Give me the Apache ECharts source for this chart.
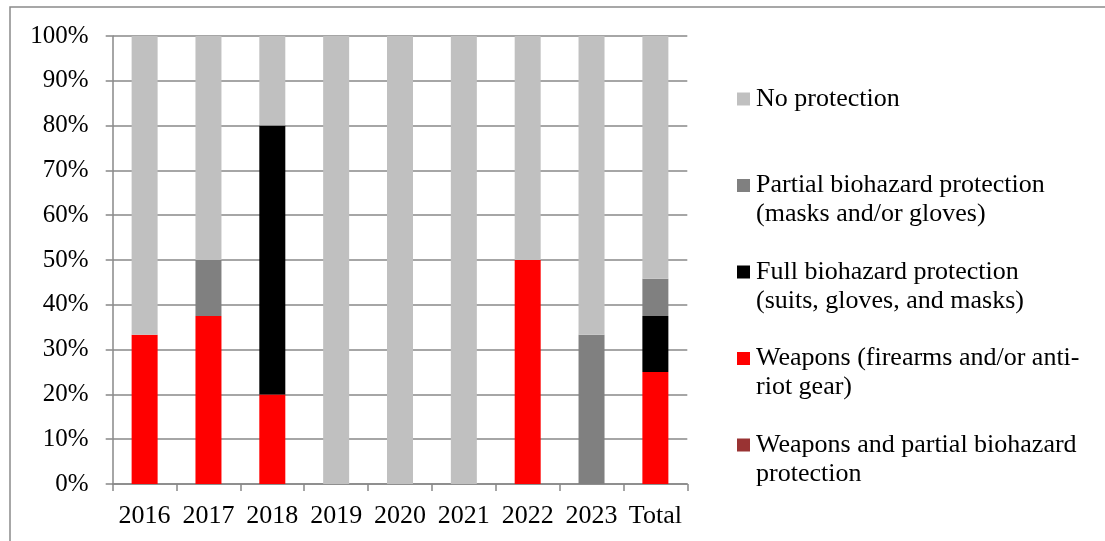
<!DOCTYPE html>
<html>
<head>
<meta charset="utf-8">
<script src="https://cdn.jsdelivr.net/npm/echarts@6/dist/echarts.min.js"></script>
<style>
html,body{margin:0;padding:0;background:#fff;}
#chart{width:1105px;height:541px;}
</style>
</head>
<body>
<div id="chart"></div>
<script>
const categories = ['2016', '2017', '2018', '2019', '2020', '2021', '2022', '2023', 'Total'];
const weaponsPartial = [0, 0, 0, 0, 0, 0, 0, 0, 0];
const weapons = [33.3, 37.5, 20, 0, 0, 0, 50, 0, 25];
const fullBio = [0, 0, 60, 0, 0, 0, 0, 0, 12.5];
const partialBio = [0, 12.5, 0, 0, 0, 0, 0, 33.3, 8.3];
const noProtection = [66.7, 50, 20, 100, 100, 100, 50, 66.7, 54.2];

const seriesNames = [
  'Weapons and partial biohazard protection',
  'Weapons (firearms and/or anti-riot gear)',
  'Full biohazard protection (suits, gloves, and masks)',
  'Partial biohazard protection (masks and/or gloves)',
  'No protection'
];
const legendLines = {
  'No protection': ['No protection', ''],
  'Partial biohazard protection (masks and/or gloves)': ['Partial biohazard protection', '(masks and/or gloves)'],
  'Full biohazard protection (suits, gloves, and masks)': ['Full biohazard protection', '(suits, gloves, and masks)'],
  'Weapons (firearms and/or anti-riot gear)': ['Weapons (firearms and/or anti-', 'riot gear)'],
  'Weapons and partial biohazard protection': ['Weapons and partial biohazard', 'protection']
};
const seriesData = [weaponsPartial, weapons, fullBio, partialBio, noProtection];
const colors = ['#993333', '#FF0000', '#000000', '#808080', '#C0C0C0'];
const legendOrder = [4, 3, 2, 1, 0];

const FONT = "'Liberation Serif', 'Times New Roman', serif";
const gridColor = '#888888';

const rich = {
  g: { width: 6, height: 13, lineHeight: 29 },
  s: { width: 19, height: 13, lineHeight: 29 },
  t: { fontFamily: FONT, fontSize: 26, color: '#000', lineHeight: 29 }
};
colors.forEach((c, i) => {
  rich['m' + i] = { width: 13, height: 13, backgroundColor: c, lineHeight: 29 };
});

const chart = echarts.init(document.getElementById('chart'), null, { renderer: 'canvas' });
chart.setOption({
  animation: false,
  backgroundColor: '#ffffff',
  textStyle: { fontFamily: FONT },
  graphic: [{
    type: 'rect',
    shape: { x: 10, y: 7, width: 1200, height: 1000 },
    style: { fill: 'none', stroke: '#8a8a8a', lineWidth: 1.5 },
    silent: true
  }],
  grid: {
    left: 112.7, right: 1105 - 687.3, top: 36, bottom: 541 - 484,
    containLabel: false
  },
  legend: {
    orient: 'vertical',
    left: 727,
    top: 79.5,
    itemGap: 28.5,
    itemWidth: 0,
    itemHeight: 0,
    selectedMode: true,
    data: legendOrder.map(i => seriesNames[i]),
    formatter: function (name) {
      const idx = seriesNames.indexOf(name);
      const l = legendLines[name];
      return '{m' + idx + '|}{g|}{t|' + l[0] + '}\n{s|}{t|' + (l[1] || ' ') + '}';
    },
    textStyle: { fontFamily: FONT, fontSize: 26, color: '#000', lineHeight: 29, rich: rich }
  },
  xAxis: {
    type: 'category',
    data: categories,
    axisLine: { show: true, lineStyle: { color: gridColor, width: 1.5 } },
    axisTick: { show: true, length: 7, alignWithLabel: false, lineStyle: { color: gridColor, width: 1.5 } },
    axisLabel: { color: '#000', fontFamily: FONT, fontSize: 26, margin: 19, interval: 0 }
  },
  yAxis: {
    type: 'value',
    min: 0, max: 100, interval: 10,
    axisLine: { show: true, lineStyle: { color: gridColor, width: 1.5 } },
    axisTick: { show: true, length: 7, lineStyle: { color: gridColor, width: 1.5 } },
    splitLine: { show: true, lineStyle: { color: gridColor, width: 1.5 } },
    axisLabel: { color: '#000', fontFamily: FONT, fontSize: 25, margin: 24, padding: [4, 0, 0, 0], formatter: '{value}%' }
  },
  series: seriesNames.map((name, i) => ({
    name: name,
    type: 'bar',
    stack: 'total',
    barWidth: 26,
    itemStyle: { color: colors[i] },
    emphasis: { disabled: true },
    data: seriesData[i]
  }))
});
</script>
</body>
</html>
